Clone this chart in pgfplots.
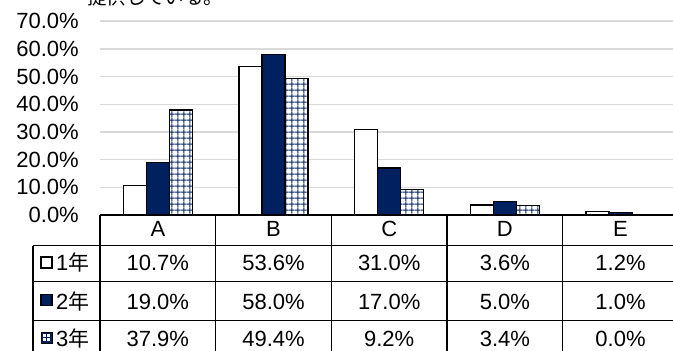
\documentclass[border=0pt]{standalone}
\usepackage{pgfplots}
\pgfplotsset{compat=1.18}
\usepackage{fontspec}
\setmainfont{Liberation Sans}
\newfontfamily\cjk{Noto Sans CJK JP}
\usetikzlibrary{patterns.meta}
\definecolor{navy}{RGB}{0,32,96}
\definecolor{gridgray}{RGB}{217,217,217}
\tikzdeclarepattern{
  name=navygrid,
  type=uncolored,
  bounding box={(0pt,0pt) and (6.3pt,6.3pt)},
  tile size={(6.3pt,6.3pt)},
  line width=1.8pt,
  code={
    \draw (0pt,3.15pt) -- (6.3pt,3.15pt);
    \draw (3.15pt,0pt) -- (3.15pt,6.3pt);
  }
}
\newcommand{\tf}{\fontsize{22}{26}\selectfont}
\newcommand{\jf}{\cjk\fontsize{21}{26}\selectfont}
\begin{document}
\begin{tikzpicture}
\path[use as bounding box] (0pt,0pt) rectangle (673pt,351pt);
\clip (0pt,0pt) rectangle (673pt,351pt);
% cut-off title
\node[anchor=base west, inner sep=0pt, font=\cjk\fontsize{19.5}{22}\selectfont] at (87pt,346pt) {提供している。};
\begin{axis}[
  at={(100pt,136pt)}, anchor=south west,
  scale only axis, width=578.4pt, height=193.8pt,
  xmin=-0.5, xmax=4.5, ymin=0, ymax=70,
  enlargelimits=false,
  axis line style={draw=none},
  major tick length=0pt,
  ytick={0,10,...,70},
  ymajorgrids, grid style={draw=gridgray, line width=1.5pt},
  yticklabel={\pgfmathprintnumber[fixed,fixed zerofill,precision=1,assume math mode=true]{\tick}\%},
  yticklabel style={font=\tf, anchor=east, inner sep=0pt, xshift=-21pt},
  xtick={0,1,2,3,4},
  xticklabels={A,B,C,D,E},
  xticklabel style={font=\tf, anchor=base, inner sep=0pt, yshift=-22pt},
  ybar=0pt, bar width=23pt,
]
\addplot[draw=black, line width=1.2pt, fill=white] coordinates {(0,10.7) (1,53.6) (2,31.0) (3,3.6) (4,1.2)};
\addplot[draw=black, line width=1.2pt, fill=navy] coordinates {(0,19.0) (1,58.0) (2,17.0) (3,5.0) (4,1.0)};
\addplot[draw=black, line width=1.2pt, fill=white, postaction={pattern=navygrid, pattern color=navy}] coordinates {(0,37.9) (1,49.4) (2,9.2) (3,3.4) (4,0.0)};
\end{axis}
% data table
\begin{scope}[line width=1.5pt, x=1pt, y=1pt]
\draw (100,136) -- (673,136);
\foreach \yy in {105.3,69.3,30.3} \draw (33,\yy) -- (673,\yy);
\draw (33,105.3) -- (33,-5);
\foreach \xx in {100,215.68,331.36,447.04,562.72} \draw (\xx,136) -- (\xx,-5);
\end{scope}
\begin{scope}[x=1pt, y=1pt]
% legend cells
\draw[line width=1.2pt, fill=white] (41,83) rectangle (52,94);
\draw[line width=1.2pt, fill=navy] (41,45.5) rectangle (52,56.5);
\fill[navy] (41,8) rectangle (52,19);
\fill[white] (42.6,9.6) rectangle (45.9,12.9);
\fill[white] (47.1,9.6) rectangle (50.4,12.9);
\fill[white] (42.6,14.1) rectangle (45.9,17.4);
\fill[white] (47.1,14.1) rectangle (50.4,17.4);
\draw[line width=0.8pt] (41,8) rectangle (52,19);
\node[anchor=base west, inner sep=0pt, font=\tf] at (56,80.5) {1{\jf 年}};
\node[anchor=base west, inner sep=0pt, font=\tf] at (56,41) {2{\jf 年}};
\node[anchor=base west, inner sep=0pt, font=\tf] at (56,4.5) {3{\jf 年}};
% values
\foreach \v [count=\i from 0] in {10.7\%,53.6\%,31.0\%,3.6\%,1.2\%}
  \node[anchor=base, inner sep=0pt, font=\tf] at (157.84+115.68*\i,80.5) {\v};
\foreach \v [count=\i from 0] in {19.0\%,58.0\%,17.0\%,5.0\%,1.0\%}
  \node[anchor=base, inner sep=0pt, font=\tf] at (157.84+115.68*\i,41) {\v};
\foreach \v [count=\i from 0] in {37.9\%,49.4\%,9.2\%,3.4\%,0.0\%}
  \node[anchor=base, inner sep=0pt, font=\tf] at (157.84+115.68*\i,4.5) {\v};
\end{scope}
\end{tikzpicture}
\end{document}
